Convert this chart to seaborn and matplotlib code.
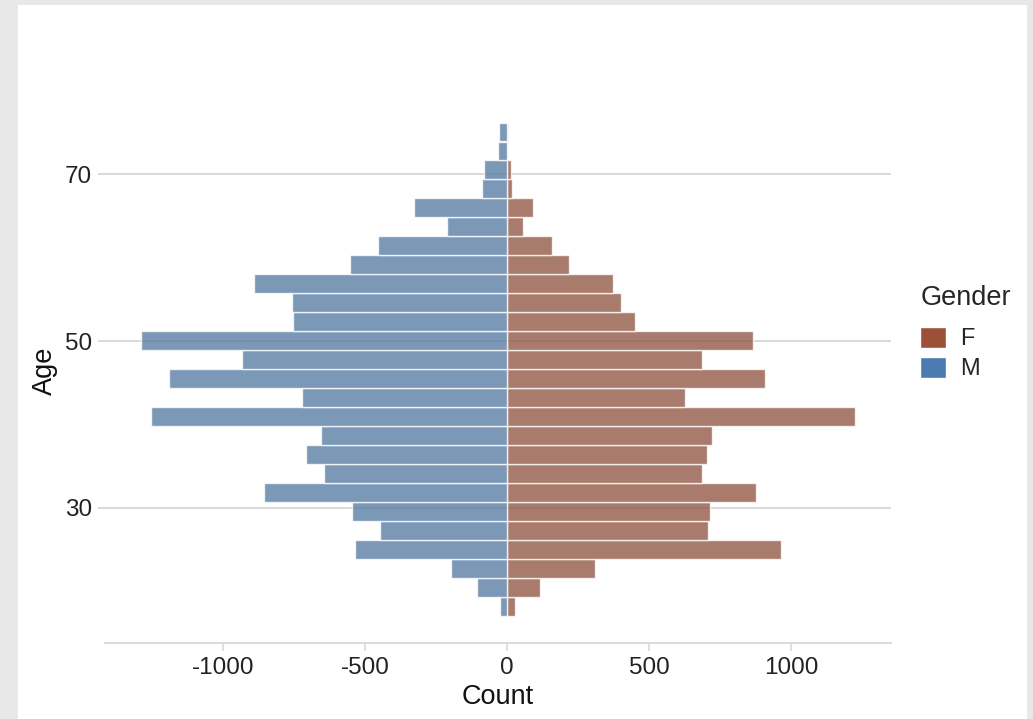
import matplotlib
matplotlib.use("Agg")
from matplotlib import pyplot as plt
from matplotlib.patches import Patch, Rectangle
import pandas as pd
import seaborn as sns

# age bin centres (bottom -> top)
ages = [18.20, 20.48, 22.75, 25.03, 27.30, 29.58, 31.86, 34.13, 36.41, 38.68,
        40.96, 43.24, 45.51, 47.79, 50.06, 52.34, 54.62, 56.89, 59.17, 61.44,
        63.72, 66.00, 68.27, 70.55, 72.82, 75.10]
male = [26, 104, 198, 534, 446, 544, 854, 645, 706, 655,
        1254, 721, 1188, 931, 1287, 753, 758, 889, 551, 455,
        211, 326, 88, 81, 31, 27]
female = [28, 117, 311, 963, 707, 713, 875, 687, 705, 720,
          1223, 627, 908, 687, 866, 450, 401, 372, 217, 157,
          55, 90, 19, 15, 0, 5]
genders = ["F", "M"]
colors = {"F": "#9C5038", "M": "#4A7AB0"}
x_ticks = [-1000, -500, 0, 500, 1000]
y_ticks = [30, 50, 70]

df = pd.concat([
    pd.DataFrame({"Age": ages, "Count": female, "Gender": "F"}),
    pd.DataFrame({"Age": ages, "Count": [-v for v in male], "Gender": "M"}),
], ignore_index=True)

sns.set_theme(style="white")
plt.rcParams["font.family"] = ["Liberation Sans", "DejaVu Sans"]

fig = plt.figure(figsize=(10.33, 7.19), dpi=100)
fig.patch.set_facecolor("#E8E8E8")
fig.add_artist(Rectangle((18 / 1033, 0), (1027 - 18) / 1033, (719 - 5) / 719,
                         transform=fig.transFigure, facecolor="white",
                         edgecolor="none", zorder=-10))

ax = fig.add_axes([104.6 / 1033, 1 - 643 / 719, (891 - 104.6) / 1033, (643 - 97.8) / 719])

sns.barplot(data=df, x="Count", y="Age", hue="Gender", hue_order=genders,
            palette=colors, orient="h", native_scale=True, dodge=False,
            errorbar=None, width=1.0, alpha=0.78, edgecolor="white",
            linewidth=1.0, legend=False, ax=ax)

ax.set_xlim(-1416, 1351)
ax.set_ylim(13.8, 79.2)
ax.set_xticks(x_ticks)
ax.set_xticklabels([str(t) for t in x_ticks])
ax.set_yticks(y_ticks)
ax.set_yticklabels([str(t) for t in y_ticks])

ax.set_axisbelow(True)
ax.yaxis.grid(True, color="#D9D9D9", linewidth=1.4)
ax.xaxis.grid(False)
for s in ["top", "right", "left"]:
    ax.spines[s].set_visible(False)
ax.spines["bottom"].set_color("#D9D9D9")
ax.spines["bottom"].set_linewidth(1.4)

ax.tick_params(axis="x", colors="#D9D9D9", labelcolor="#222222", length=6,
               width=1.2, pad=4, labelsize=17.5, bottom=True)
ax.tick_params(axis="y", colors="#D9D9D9", labelcolor="#222222", length=5,
               width=1.4, pad=4, labelsize=17.5, left=True)

ax.set_xlabel("Count", fontsize=19.5, color="#111111", labelpad=4)
ax.set_ylabel("Age", fontsize=19.5, color="#111111", labelpad=5)

handles = [Patch(facecolor=colors[g], edgecolor="white", label=g) for g in genders]
leg = fig.legend(handles=handles, title="Gender", loc="upper left",
                 bbox_to_anchor=(899 / 1033, 1 - 264 / 719), frameon=False,
                 fontsize=17, title_fontsize=19.5, handlelength=1.1,
                 handleheight=1.0, labelspacing=0.28, handletextpad=0.6,
                 alignment="left")
# a bit more room between the legend title and its entries
leg._legend_box.sep = 11

fig.savefig("out.png", dpi=100, facecolor=fig.get_facecolor())
